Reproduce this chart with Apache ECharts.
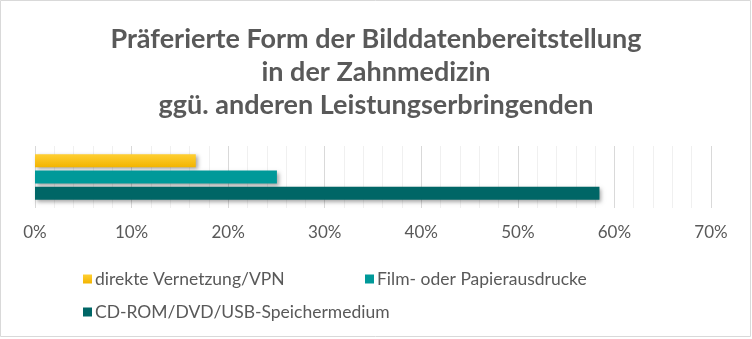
<!DOCTYPE html>
<html>
<head>
<meta charset="utf-8">
<script src="https://cdn.jsdelivr.net/npm/echarts@6/dist/echarts.min.js"></script>
<style>html,body{margin:0;padding:0;background:#fff}#c{width:752px;height:339px}</style>
</head>
<body>
<div id="c"></div>
<script>
const titleText = 'Präferierte Form der Bilddatenbereitstellung\nin der Zahnmedizin\nggü. anderen Leistungserbringenden';
const categories = [''];
const seriesNames = ['direkte Vernetzung/VPN', 'Film- oder Papierausdrucke', 'CD-ROM/DVD/USB-Speichermedium'];
const vpnValues = [0.1665];
const filmValues = [0.2505];
const cdValues = [0.5845];
const tickValues = [0, 0.1, 0.2, 0.3, 0.4, 0.5, 0.6, 0.7];
const colors = ['#ffc000', '#009999', '#006666'];

const chart = echarts.init(document.getElementById('c'), null, {renderer: 'canvas'});
const font = 'Lato, "Open Sans", sans-serif';
const textColor = '#595959';

function barSeries(name, data, color, grad) {
  return {
    name: name, type: 'bar', data: data, barWidth: 13, barGap: '25%',
    itemStyle: {
      color: grad ? new echarts.graphic.LinearGradient(0, 0, 0, 1, [
        {offset: 0, color: grad[0]}, {offset: 1, color: grad[1]}]) : color,
      shadowBlur: 4, shadowColor: 'rgba(0,0,0,0.35)', shadowOffsetX: 2, shadowOffsetY: 2
    }
  };
}

const legendCommon = {
  icon: 'rect', itemWidth: 9, itemHeight: 9, itemGap: 5,
  textStyle: {color: textColor, fontSize: 17.5, fontFamily: font, padding: [0, 0, 0, -2]}
};

chart.setOption({
  animation: false,
  backgroundColor: '#fff',
  color: colors,
  title: {
    text: titleText, left: 'center', top: 18,
    textStyle: {color: textColor, fontSize: 27, fontWeight: 'bold', fontFamily: font, lineHeight: 33}
  },
  graphic: [{
    type: 'rect', shape: {x: 0.5, y: 0.5, width: 750, height: 336},
    style: {fill: 'none', stroke: '#d9d9d9', lineWidth: 1}, silent: true
  }],
  legend: [
    Object.assign({}, legendCommon, {data: [seriesNames[0]], left: 78, top: 265}),
    Object.assign({}, legendCommon, {data: [seriesNames[1]], left: 360, top: 265}),
    Object.assign({}, legendCommon, {data: [seriesNames[2]], left: 78, top: 298})
  ],
  grid: {left: 35, right: 41, top: 146, height: 62, containLabel: false},
  xAxis: {
    type: 'value', min: 0, max: 0.7, interval: 0.1,
    axisLine: {show: false}, axisTick: {show: false},
    axisLabel: {
      color: textColor, fontSize: 17, fontFamily: font, margin: 16,
      formatter: v => Math.round(v * 100) + '%'
    },
    splitLine: {show: true, lineStyle: {color: '#d9d9d9', width: 1}},
    minorTick: {show: false, splitNumber: 5},
    minorSplitLine: {show: true, lineStyle: {color: '#f0f0f0', width: 1}}
  },
  yAxis: {
    type: 'category', data: categories, inverse: true,
    axisLine: {show: false}, axisTick: {show: false}, axisLabel: {show: false}
  },
  series: [
    barSeries(seriesNames[0], vpnValues, colors[0], ['#ffcf33', '#f2b400']),
    barSeries(seriesNames[1], filmValues, colors[1]),
    barSeries(seriesNames[2], cdValues, colors[2])
  ]
});
</script>
</body>
</html>
